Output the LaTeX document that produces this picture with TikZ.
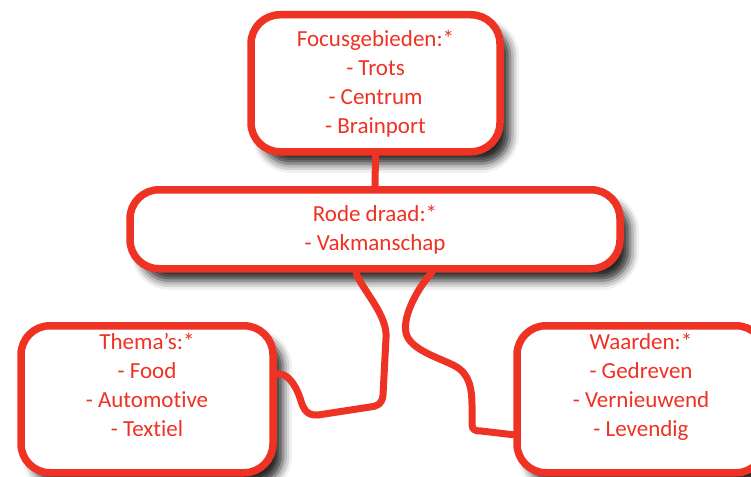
\documentclass[tikz,border=0pt]{standalone}
\usepackage{fontspec}
\setmainfont{Carlito}[Ligatures=NoCommon]
\usetikzlibrary{shadows.blur}
\definecolor{rood}{RGB}{238,50,36}
\newcommand{\boxlines}[1]{\begin{tabular}[t]{@{}c@{}}#1\end{tabular}}
\begin{document}
\begin{tikzpicture}[x=1pt,y=-1pt,line cap=round,line join=round,
  font=\fontsize{23}{29}\selectfont,
  box/.style={draw=rood,text=rood,fill=white,line width=7.5pt,
    rounded corners=29pt,inner xsep=0pt,inner ysep=0pt,anchor=north,
    blur shadow={shadow xshift=10pt,shadow yshift=-12pt,
      shadow blur radius=9pt,shadow opacity=85}},
  wire/.style={draw=rood,line width=7pt}]
  \path[use as bounding box,clip] (0,0) rectangle (751,476);
  % the four boxes, top to bottom
  \node[box,minimum width=249pt,text height=32pt,text depth=105pt]
    (focus) at (375.5,11)
    {\boxlines{Focusgebieden:*\\- Trots\\- Centrum\\- Brainport}};
  \node[box,minimum width=490pt,text height=32pt,text depth=47pt]
    (draad) at (375,186)
    {\boxlines{Rode draad:*\\- Vakmanschap}};
  \node[box,minimum width=252pt,text height=24pt,text depth=123pt]
    (themas) at (147,322)
    {\boxlines{Thema’s:*\\- Food\\- Automotive\\- Textiel}};
  \node[box,minimum width=248pt,text height=24pt,text depth=123pt]
    (waarden) at (641,322)
    {\boxlines{Waarden:*\\- Gedreven\\- Vernieuwend\\- Levendig}};
  % connectors
  \draw[wire] (focus.south) -- (draad.north);
  \draw[wire] ([xshift=-19pt]draad.south)
    .. controls (362,290) and (388,315) .. (386,338)
    -- (383,395) .. controls (382,404) and (378,406) .. (370,407)
    -- (318,415) .. controls (306,416) and (303,408) .. (300,398)
    .. controls (295,383) and (286,372) .. ([yshift=25pt]themas.east);
  \draw[wire] ([xshift=57pt]draad.south)
    .. controls (420,285) and (402,315) .. (406,333)
    .. controls (410,350) and (440,358) .. (455,366)
    .. controls (470,374) and (472,390) .. (472,405)
    -- (472,424) .. controls (472,430) and (475,431) .. (481,431)
    -- ([yshift=-35.5pt]waarden.west);
\end{tikzpicture}
\end{document}
